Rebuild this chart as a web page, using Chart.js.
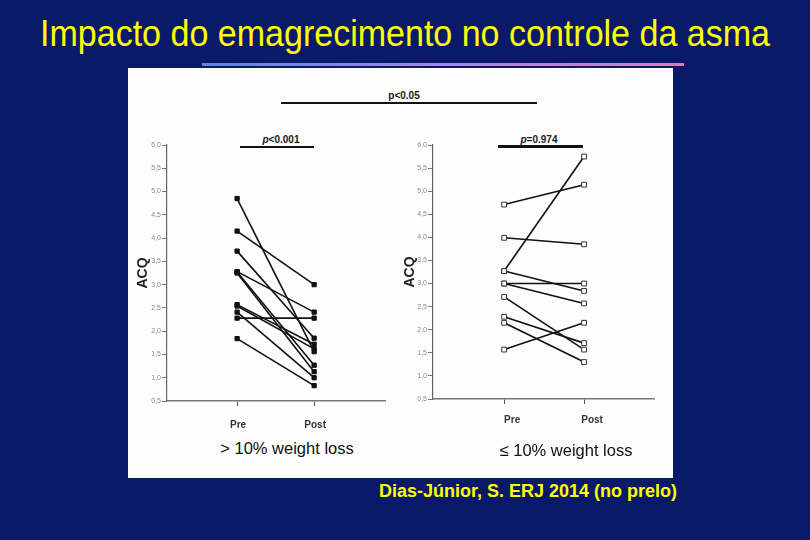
<!DOCTYPE html>
<html>
<head>
<meta charset="utf-8">
<title>Impacto do emagrecimento no controle da asma</title>
<script src="https://cdn.jsdelivr.net/npm/chart.js@4.4.0/dist/chart.umd.min.js"></script>
<style>
  body { margin: 0; width: 810px; height: 540px; background: #0a1a68; overflow: hidden; position: relative;
         font-family: "Liberation Sans", Arial, sans-serif; }
  .title { position: absolute; left: 0; width: 810px; top: 13px; text-align: center; color: #ffff00; font-size: 36px;
           transform: scaleX(0.945); transform-origin: 405px 0; }
  .rule { position: absolute; left: 202px; top: 63px; width: 482px; height: 3px;
          background: linear-gradient(to right, #5a80f0, #a08ae0 50%, #e676b4); }
  .panel { position: absolute; left: 128px; top: 68px; width: 545px; height: 410px; background: #fdfdfd; }
  .box { position: absolute; }
  .lbl { position: absolute; transform: translate(-50%, -50%); white-space: nowrap; color: #1a1a1a; }
  .pv { font-size: 10px; font-weight: bold; }
  .bar { position: absolute; background: #111; }
  .sub { font-size: 16.5px; color: #111; }
  .cite { position: absolute; right: 133px; top: 481px; color: #ffff00; font-size: 18px; font-weight: bold; }
</style>
</head>
<body>
<div class="title">Impacto do emagrecimento no controle da asma</div>
<div class="rule"></div>
<div class="panel"></div>

<div class="lbl pv" style="left:404px; top:95px;">p&lt;0.05</div>
<div class="bar" style="left:281px; top:102px; width:256px; height:2px;"></div>

<div class="lbl pv" style="left:281px; top:139px;"><i>p</i>&lt;0.001</div>
<div class="bar" style="left:240px; top:146px; width:74px; height:2px;"></div>

<div class="lbl pv" style="left:539px; top:139px;"><i>p</i>=0.974</div>
<div class="bar" style="left:498px; top:145px; width:85px; height:3px;"></div>

<div class="box" style="left:128px; top:130px; width:270px; height:305px;"><canvas id="leftChart" width="270" height="305"></canvas></div>
<div class="box" style="left:395px; top:130px; width:270px; height:305px;"><canvas id="rightChart" width="270" height="305"></canvas></div>

<div class="lbl sub" style="left:287px; top:448px;">&gt; 10% weight loss</div>
<div class="lbl sub" style="left:566px; top:450px;">≤ 10% weight loss</div>

<div class="cite">Dias-Júnior, S. ERJ 2014 (no prelo)</div>

<script>
// ACQ scores, each index is one patient (Pre -> Post)
const preLoss  = [4.85, 4.15, 3.72, 3.28, 3.27, 3.25, 2.57, 2.54, 2.41, 2.28, 1.84];
const postLoss = [1.56, 3.00, 1.85, 2.41, 1.27, 1.13, 1.72, 1.62, 1.00, 2.28, 0.83];

const preNoLoss  = [4.71, 3.99, 3.27, 3.27, 3.00, 3.00, 2.71, 2.28, 2.15, 1.57];
const postNoLoss = [5.14, 3.85, 5.75, 2.84, 3.00, 2.57, 1.57, 1.71, 1.30, 2.15];

const xLabels = ['Pre', 'Post'];
const Y_MIN = 0.5, Y_MAX = 6.0, Y_STEP = 0.5;

function buildDatasets(pre, post, filled) {
  return pre.map((v, i) => ({
    data: [{ x: 1, y: v }, { x: 2, y: post[i] }],
    borderColor: '#111',
    borderWidth: 1.6,
    pointStyle: 'rect',
    pointRadius: filled ? 3 : 3.4,
    pointBorderWidth: 1,
    pointBorderColor: filled ? '#111' : '#333',
    pointBackgroundColor: filled ? '#111' : '#fff',
  }));
}

function makeChart(id, pre, post, cfg) {
  const ctx = document.getElementById(id);
  new Chart(ctx.getContext('2d'), {
    type: 'line',
    data: { datasets: buildDatasets(pre, post, cfg.filled) },
    options: {
      responsive: false,
      animation: false,
      layout: { padding: { top: cfg.padTop, right: cfg.padRight, left: 0, bottom: 0 } },
      plugins: { legend: { display: false }, tooltip: { enabled: false } },
      scales: {
        x: {
          type: 'linear',
          min: cfg.xMin,
          max: cfg.xMax,
          afterBuildTicks: axis => { axis.ticks = [1, 2].map(v => ({ value: v })); },
          afterFit: axis => { axis.height = cfg.xHeight; },
          border: { display: true, color: '#777', width: 1.5 },
          grid: { drawOnChartArea: false, drawTicks: true, tickLength: 5, color: '#555' },
          ticks: {
            callback: v => xLabels[v - 1],
            color: '#333',
            padding: cfg.xPad,
            labelOffset: cfg.labelOffset,
            maxRotation: 0,
            font: { family: 'Liberation Sans', size: 10, weight: 'bold' }
          }
        },
        y: {
          min: Y_MIN,
          max: Y_MAX,
          afterFit: axis => { axis.width = cfg.yWidth; },
          border: { display: true, color: '#666', width: 1.2 },
          grid: { drawOnChartArea: false, drawTicks: true, tickLength: 5, color: '#777' },
          ticks: {
            stepSize: Y_STEP,
            color: '#888',
            padding: 1,
            callback: v => v.toFixed(1).replace('.', ','),
            font: { family: 'Liberation Sans', size: 7 }
          },
          title: {
            display: true,
            text: 'ACQ',
            color: '#222',
            padding: { top: 7, bottom: 0 },
            font: { family: 'Liberation Sans', size: 14, weight: 'bold' }
          }
        }
      }
    }
  });
}

document.addEventListener('DOMContentLoaded', () => {
  makeChart('leftChart', preLoss, postLoss, {
    filled: true, padTop: 15, padRight: 13, yWidth: 39, xHeight: 34,
    xMin: 0.09, xMax: 2.92, xPad: 13, labelOffset: 1
  });
  makeChart('rightChart', preNoLoss, postNoLoss, {
    filled: false, padTop: 15, padRight: 11, yWidth: 38, xHeight: 36,
    xMin: 0.11, xMax: 2.875, xPad: 10, labelOffset: 8
  });
});
</script>
</body>
</html>
